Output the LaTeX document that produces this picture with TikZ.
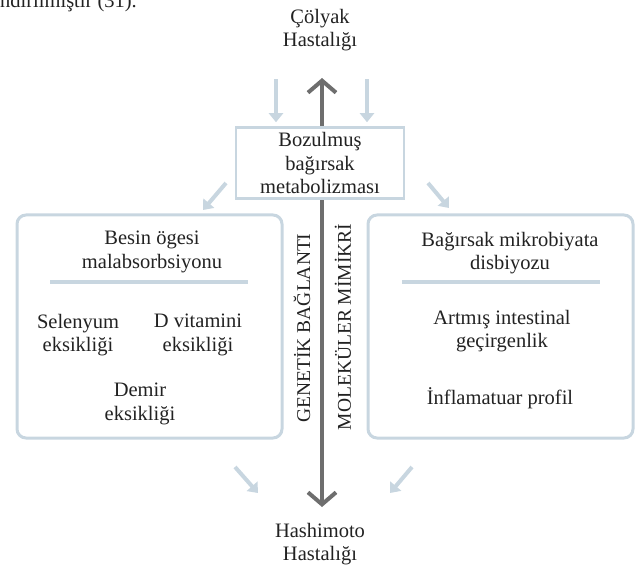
\documentclass[tikz,border=0pt]{standalone}
\usepackage{fontspec}
\setmainfont{Liberation Serif}
\usetikzlibrary{arrows.meta,positioning}
\definecolor{paleblue}{HTML}{C8D6E0}
\definecolor{axisgray}{HTML}{6E6E6E}
\definecolor{inkgray}{HTML}{222222}

\tikzset{
  lbl/.style={align=center,text=inkgray,inner sep=0pt,
    font=\fontsize{20.5}{23.5}\selectfont},
  sidelbl/.style={lbl,rotate=90,font=\fontsize{19.5}{23.5}\selectfont},
  panel/.style={draw=paleblue,line width=3pt,rounded corners=9pt,
    minimum width=265pt,minimum height=223pt},
  hubbox/.style={draw=paleblue,line width=2.5pt,fill=white,
    minimum width=168pt,minimum height=71pt},
  feed/.style={paleblue,line width=4pt,-{Triangle[length=9pt,width=14pt]}},
  axis/.style={axisgray,line width=4pt,
    {Straight Barb[length=12pt,width=28pt]}-{Straight Barb[length=12pt,width=28pt]}},
  divider/.style={paleblue,line width=4pt},
}

\begin{document}
\begin{tikzpicture}[x=1pt,y=-1pt]
  \useasboundingbox (0,0) rectangle (637,569);

  % text of the page above
  \node[anchor=base west,text=inkgray,inner sep=0pt,font=\fontsize{20.5}{24}\selectfont]
    (pagetext) at (0,8) {ndirilmiştir (31).};

  % the two diseases and the axis
  \node[lbl] (celiac) at (320,30) {Çölyak\\Hastalığı};
  \node[lbl] (hashimoto) at (320,544) {Hashimoto\\Hastalığı};
  \coordinate (axistop) at (322,78);
  \coordinate (axisbot) at (322,507);
  \draw[axis] (axisbot) -- (axistop);

  % gut metabolism box
  \node[hubbox,lbl] (hub) at (320,163) {Bozulmuş\\bağırsak\\metabolizması};
  \draw[feed] ([xshift=-44pt,yshift=47pt]hub.north) -- ([xshift=-44pt,yshift=4pt]hub.north);
  \draw[feed] ([xshift=47pt,yshift=47pt]hub.north) -- ([xshift=47pt,yshift=4pt]hub.north);

  % panels
  \node[panel] (leftpanel) at (149.5,326.5) {};
  \node[panel] (rightpanel) at (500.5,326.5) {};

  \node[lbl] (nutrient) at (152,252) {Besin ögesi\\malabsorbsiyonu};
  \draw[divider] (50,282) -- (248,282);
  \node[lbl] (selenium) at (78,335) {Selenyum\\eksikliği};
  \node[lbl] (vitd) at (198,335) {D vitamini\\eksikliği};
  \node[lbl] (iron) at (140,404) {Demir\\eksikliği};

  \node[lbl] (dysbiosis) at (510,253) {Bağırsak mikrobiyata\\disbiyozu};
  \draw[divider] (402,282) -- (600,282);
  \node[lbl] (permeab) at (502,331) {Artmış intestinal\\geçirgenlik};
  \node[lbl] (inflam) at (500,398) {İnflamatuar profil};

  % labels along the axis
  \node[sidelbl] (genetic) at (302,328) {GENETİK BAĞLANTI};
  \node[sidelbl] (mimicry) at (343,327) {MOLEKÜLER MİMİKRİ};

  % diagonal arrows
  \coordinate (ltA) at (226,183);  \coordinate (ltB) at (203,210);
  \coordinate (rtA) at (428,183);  \coordinate (rtB) at (449,208);
  \coordinate (lbA) at (235,467);  \coordinate (lbB) at (258,493);
  \coordinate (rbA) at (412,467);  \coordinate (rbB) at (390,493);
  \draw[feed] (ltA) -- (ltB);
  \draw[feed] (rtA) -- (rtB);
  \draw[feed] (lbA) -- (lbB);
  \draw[feed] (rbA) -- (rbB);
\end{tikzpicture}
\end{document}
